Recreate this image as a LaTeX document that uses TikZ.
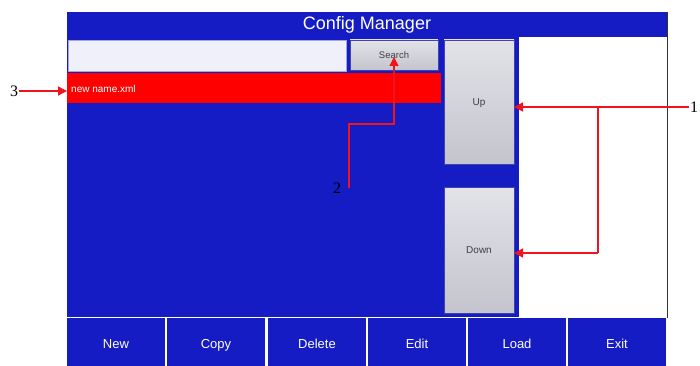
\documentclass[tikz,border=0pt]{standalone}
\usepackage{fontspec}
\setmainfont{Liberation Sans}
\newfontfamily\numfont{Liberation Serif}
\usetikzlibrary{arrows.meta}
\definecolor{uiblue}{RGB}{22,28,196}
\definecolor{uired}{RGB}{255,0,0}
\definecolor{fieldbg}{RGB}{240,240,250}
\definecolor{btntop}{RGB}{226,226,232}
\definecolor{btnbot}{RGB}{196,196,206}
\definecolor{callred}{RGB}{240,20,30}
\tikzset{
  box/.style={rectangle, inner sep=0pt, outer sep=0pt, anchor=north west},
  greybtn/.style={box, draw=uiblue!60!gray, line width=0.6pt, top color=btntop, bottom color=btnbot, text=black!75, font=\fontsize{9.5}{11}\selectfont, text height=7pt, text depth=0pt},
  barbtn/.style={box, fill=uiblue, text=white, font=\fontsize{13}{15}\selectfont, minimum height=54, minimum width=98, text height=9.5pt, text depth=2.5pt},
  callout/.style={callred, line width=1.4pt, -{Triangle[length=9pt,width=9pt]}},
  calline/.style={callred, line width=1.4pt},
  num/.style={inner sep=1pt, font=\numfont\fontsize{16}{18}\selectfont}
}
\begin{document}
\begin{tikzpicture}[x=1pt,y=-1pt]
\useasboundingbox (0,0) rectangle (700,366);
\fill[white] (0,0) rectangle (700,366);
% right border line of the window
\draw[black!80, line width=0.8pt] (667,12) -- (667,318);
% title bar
\node[box, fill=uiblue, minimum width=600, minimum height=25, text=white, font=\fontsize{18}{20}\selectfont] (title) at (67,12) {Config Manager};
% main list panel
\node[box, fill=uiblue, minimum width=452, minimum height=280] (panel) at (67,37) {};
% search field and button
\node[box, fill=fieldbg, draw=uiblue!40, line width=0.5pt, minimum width=278, minimum height=31] (field) at (68,40) {};
\node[greybtn, minimum width=88, minimum height=30] (search) at (350,40) {Search};
% up / down buttons
\node[greybtn, minimum width=70, minimum height=124, font=\fontsize{10}{12}\selectfont] (up) at (444,40) {Up};
\node[greybtn, minimum width=70, minimum height=126, font=\fontsize{10}{12}\selectfont] (down) at (444,187) {Down};
% selected row
\node[box, fill=uired, minimum width=374, minimum height=30] (row) at (67,73) {};
\node[anchor=west, inner sep=0pt, text=white, font=\fontsize{10}{12}\selectfont] (rowtext) at (71,89) {new name.xml};
% bottom button bar
\node[barbtn] (bnew) at (67,318) {New};
\node[barbtn] (bcopy) at (167,318) {Copy};
\node[barbtn] (bdelete) at (268,318) {Delete};
\node[barbtn] (bedit) at (368,318) {Edit};
\node[barbtn] (bload) at (468,318) {Load};
\node[barbtn] (bexit) at (568,318) {Exit};
% callout 3
\node[num] (n3) at (14,91) {3};
\draw[callout] (n3.east) -- (row.west |- n3.east);
% callout 1
\node[num] (n1) at (694,107) {1};
\coordinate (j1) at (598,107);
\coordinate (j2) at (598,253);
\draw[callout] (n1.west) -- (up.east |- n1.west);
\draw[calline] (j1) -- (j2);
\draw[callout] (j2) -- (down.east |- j2);
% callout 2
\node[num] (n2) at (337,188) {2};
\coordinate (k1) at (349,188);
\coordinate (k2) at (349,124);
\coordinate (k3) at (394,124);
\coordinate (k4) at (394,57);
\draw[callout] (k1) -- (k2) -- (k3) -- (k4);
\end{tikzpicture}
\end{document}
